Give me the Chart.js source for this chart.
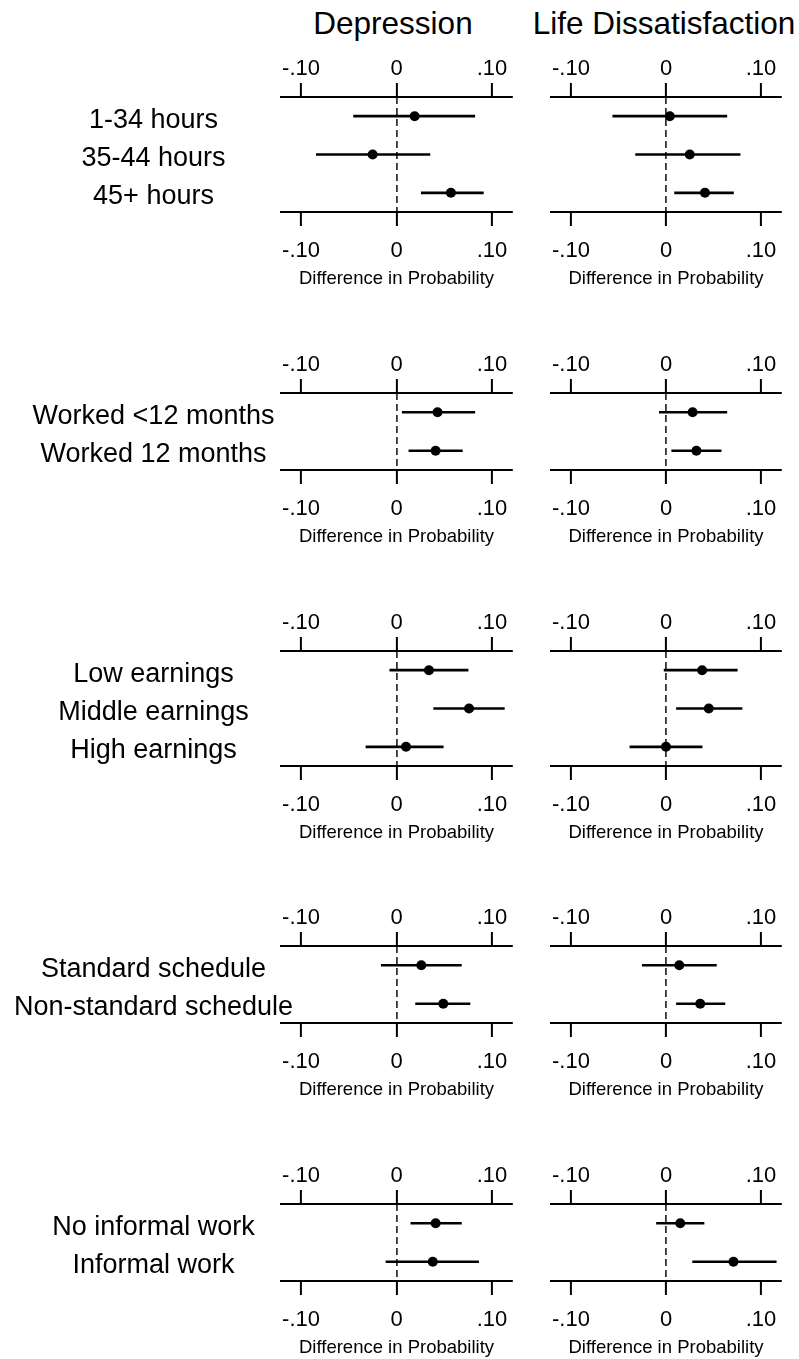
<!DOCTYPE html>
<html>
<head>
<meta charset="utf-8">
<script src="https://cdn.jsdelivr.net/npm/chart.js@4.4.1/dist/chart.umd.min.js"></script>
<style>
  html, body { margin: 0; padding: 0; background: #fff; overflow: hidden; }
  body { width: 799px; height: 1359px; position: relative; }
  canvas { position: absolute; }
  .colhead {
    position: absolute; top: 8px;
    font: 31.5px 'Liberation Sans', Arial, Helvetica, sans-serif;
    line-height: 31px; color: #000; white-space: nowrap;
    transform: translateX(-50%);
  }
</style>
</head>
<body>
<div class="colhead" style="left:393px">Depression</div>
<div class="colhead" style="left:664px">Life Dissatisfaction</div>
<script>
// ---- shared axis ----
const tickValues = [-0.10, 0, 0.10];
const tickLabels = ['-.10', '0', '.10'];
const axisMin = -0.121;
const axisMax = 0.121;
const axisTitle = 'Difference in Probability';

// ---- hours worked ----
const hoursLabels = ['1-34 hours', '35-44 hours', '45+ hours'];
const depHoursEst = [0.019, -0.025, 0.057];
const depHoursLo  = [-0.045, -0.084, 0.026];
const depHoursHi  = [0.082, 0.035, 0.091];
const lifeHoursEst = [0.004, 0.025, 0.041];
const lifeHoursLo  = [-0.056, -0.032, 0.009];
const lifeHoursHi  = [0.064, 0.078, 0.071];

// ---- months worked ----
const monthsLabels = ['Worked <12 months', 'Worked 12 months'];
const depMonthsEst = [0.043, 0.041];
const depMonthsLo  = [0.006, 0.013];
const depMonthsHi  = [0.082, 0.069];
const lifeMonthsEst = [0.028, 0.032];
const lifeMonthsLo  = [-0.007, 0.006];
const lifeMonthsHi  = [0.064, 0.058];

// ---- earnings ----
const earnLabels = ['Low earnings', 'Middle earnings', 'High earnings'];
const depEarnEst = [0.034, 0.076, 0.010];
const depEarnLo  = [-0.007, 0.039, -0.032];
const depEarnHi  = [0.075, 0.113, 0.049];
const lifeEarnEst = [0.038, 0.045, 0.000];
const lifeEarnLo  = [-0.002, 0.011, -0.038];
const lifeEarnHi  = [0.075, 0.080, 0.038];

// ---- schedule ----
const schedLabels = ['Standard schedule', 'Non-standard schedule'];
const depSchedEst = [0.026, 0.049];
const depSchedLo  = [-0.016, 0.020];
const depSchedHi  = [0.068, 0.077];
const lifeSchedEst = [0.014, 0.036];
const lifeSchedLo  = [-0.025, 0.011];
const lifeSchedHi  = [0.053, 0.062];

// ---- informal work ----
const informalLabels = ['No informal work', 'Informal work'];
const depInfEst = [0.041, 0.038];
const depInfLo  = [0.015, -0.011];
const depInfHi  = [0.068, 0.086];
const lifeInfEst = [0.015, 0.071];
const lifeInfLo  = [-0.010, 0.028];
const lifeInfHi  = [0.040, 0.116];

// ---- layout ----
const FONT = "'Liberation Sans', Arial, Helvetica, sans-serif";
const ROW_AXIS_TOP = [97, 393, 651, 946, 1204];
const BAND = 38.4;
const TOP_H = 60;
const BOTTOM_H = 78;
const LABEL_SIZE = 27;
const TICK_SIZE = 22;
const LABEL_CENTER = 153.5;
const PLOT_LEFT = 281;

const rows = [
  { labels: hoursLabels,    dep: [depHoursEst, depHoursLo, depHoursHi],   life: [lifeHoursEst, lifeHoursLo, lifeHoursHi] },
  { labels: monthsLabels,   dep: [depMonthsEst, depMonthsLo, depMonthsHi], life: [lifeMonthsEst, lifeMonthsLo, lifeMonthsHi] },
  { labels: earnLabels,     dep: [depEarnEst, depEarnLo, depEarnHi],       life: [lifeEarnEst, lifeEarnLo, lifeEarnHi] },
  { labels: schedLabels,    dep: [depSchedEst, depSchedLo, depSchedHi],    life: [lifeSchedEst, lifeSchedLo, lifeSchedHi] },
  { labels: informalLabels, dep: [depInfEst, depInfLo, depInfHi],          life: [lifeInfEst, lifeInfLo, lifeInfHi] }
];

const measureCtx = document.createElement('canvas').getContext('2d');

function setTicks(scale) {
  scale.ticks = tickValues.map(v => ({ value: v }));
}

function xAxis(position) {
  const bottom = position === 'bottom';
  const cfg = {
    type: 'linear',
    position: position,
    min: axisMin,
    max: axisMax,
    bounds: 'data',
    afterBuildTicks: setTicks,
    afterFit: s => { s.height = bottom ? BOTTOM_H : TOP_H; },
    grid: {
      display: true,
      drawOnChartArea: bottom,
      drawTicks: true,
      tickLength: 14,
      tickWidth: 2,
      tickColor: '#000',
      lineWidth: 1.8,
      // only the zero reference line is drawn across the plot, dashed
      color: c => (bottom && c.tick && c.tick.value === 0) ? '#333' : 'rgba(0,0,0,0)'
    },
    border: { display: true, color: '#000', width: 2, dash: [7, 4] },
    ticks: {
      padding: bottom ? 12 : 1,
      maxRotation: 0,
      autoSkip: false,
      color: '#000',
      font: { family: FONT, size: TICK_SIZE },
      callback: (v, i) => tickLabels[i]
    }
  };
  if (bottom) {
    cfg.title = {
      display: true,
      text: axisTitle,
      color: '#000',
      font: { family: FONT, size: 18.5 },
      padding: { top: 0, bottom: 0 }
    };
  }
  return cfg;
}

function makePanel(rowIdx, col, labels, est, lo, hi) {
  const n = labels.length;
  const area = Math.round(BAND * n);
  const h = TOP_H + area + BOTTOM_H;
  const left = col === 0 ? 0 : 530;
  const w = col === 0 ? 520 : 269;

  const canvas = document.createElement('canvas');
  canvas.width = w;
  canvas.height = h;
  canvas.style.left = left + 'px';
  canvas.style.top = (ROW_AXIS_TOP[rowIdx] - TOP_H) + 'px';
  canvas.style.width = w + 'px';
  canvas.style.height = h + 'px';
  document.body.appendChild(canvas);

  // centre the category labels in the left margin (mirrored labels are not clipped)
  measureCtx.font = LABEL_SIZE + 'px ' + FONT;
  const widest = Math.max(...labels.map(t => measureCtx.measureText(t).width));
  const labelPad = LABEL_CENTER - PLOT_LEFT - widest / 2;
  const yAxisWidth = col === 0 ? PLOT_LEFT : 21;

  new Chart(canvas, {
    type: 'bar',
    data: {
      labels: labels,
      datasets: [
        {
          type: 'line',
          indexAxis: 'y',
          data: est,
          showLine: false,
          pointRadius: 5,
          pointHoverRadius: 5,
          pointBackgroundColor: '#000',
          pointBorderWidth: 0,
          borderColor: '#000',
          order: 0,
          xAxisID: 'x',
          yAxisID: 'y'
        },
        {
          type: 'bar',
          data: lo.map((v, i) => [v, hi[i]]),
          backgroundColor: '#000',
          borderWidth: 0,
          barThickness: 2,
          order: 1,
          xAxisID: 'x',
          yAxisID: 'y'
        }
      ]
    },
    options: {
      indexAxis: 'y',
      responsive: false,
      animation: false,
      events: [],
      layout: { padding: { left: 0, right: col === 0 ? 8 : 18, top: 0, bottom: 0 } },
      plugins: { legend: { display: false }, tooltip: { enabled: false } },
      scales: {
        y: {
          type: 'category',
          position: 'left',
          offset: true,
          grid: { display: false, drawTicks: false },
          border: { display: false },
          ticks: {
            display: col === 0,
            mirror: true,
            crossAlign: 'center',
            padding: labelPad,
            labelOffset: 4,
            autoSkip: false,
            color: '#000',
            font: { family: FONT, size: LABEL_SIZE }
          },
          afterFit: s => { s.width = yAxisWidth; }
        },
        x: xAxis('bottom'),
        xTop: xAxis('top')
      }
    }
  });
}

rows.forEach((r, i) => {
  makePanel(i, 0, r.labels, r.dep[0], r.dep[1], r.dep[2]);
  makePanel(i, 1, r.labels, r.life[0], r.life[1], r.life[2]);
});
</script>
</body>
</html>
